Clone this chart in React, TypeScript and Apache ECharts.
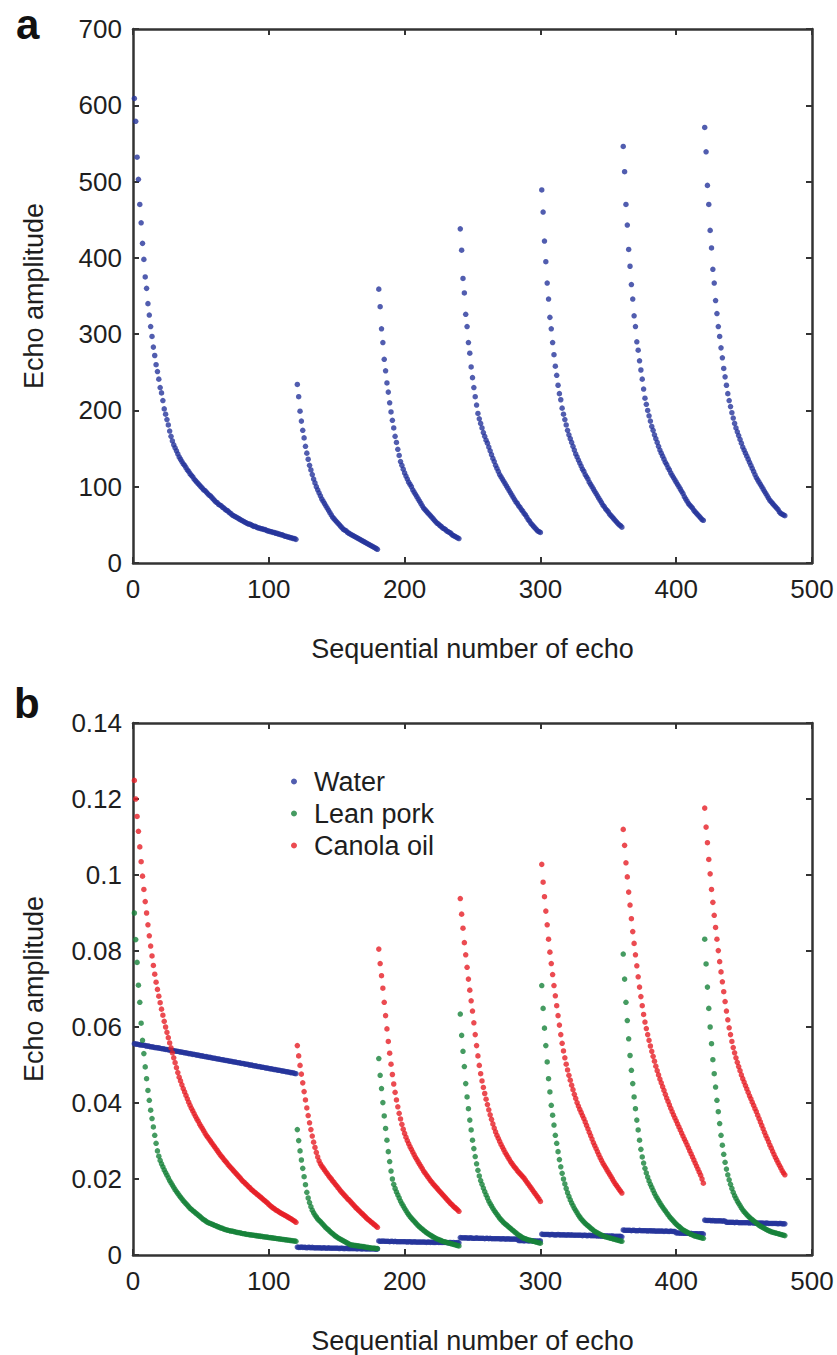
import React, { useEffect, useRef } from "react";
import * as echarts from "echarts";

// Echo index at which each acquisition segment starts (120 echoes, then 6 x 60)
const SEGMENT_STARTS = [1, 121, 181, 241, 301, 361, 421];
const X_MIN = 0;
const X_MAX = 500;
const X_STEP = 100;
const Y_A_MAX = 700;
const Y_A_STEP = 100;
const Y_B_MAX = 0.14;
const Y_B_STEP = 0.02;
const LEGEND_NAMES = ["Water", "Lean pork", "Canola oil"];
const X_TITLE = "Sequential number of echo";
const Y_TITLE = "Echo amplitude";

// Panel a: echo amplitude, per segment
const echoA = [
  [
    609, 579, 532, 503, 470, 446, 419, 398, 375, 360,
    340, 325, 310, 297, 283, 272, 260, 251, 241, 230,
    223, 213, 202, 195, 188, 181, 173, 166, 160, 155,
    151, 147, 143, 139, 136, 133, 130, 128, 125, 122,
    120, 117, 115, 113, 110, 108, 106, 104, 102, 100,
    98, 96, 95, 93, 91, 89, 88, 86, 84, 82,
    80, 79, 77, 76, 75, 73, 72, 70, 69, 68,
    66, 65, 63, 62, 61, 60, 59, 58, 57, 56,
    55, 54, 53, 52, 51, 51, 50, 49, 48, 48,
    47, 46, 46, 45, 45, 44, 44, 43, 42, 42,
    41, 41, 40, 40, 39, 39, 38, 38, 37, 37,
    36, 35, 35, 34, 34, 33, 33, 32, 32, 31,
  ],
  [
    234, 218, 199, 186, 174, 164, 153, 144, 136, 128,
    122, 116, 110, 105, 100, 96, 92, 88, 84, 81,
    78, 75, 72, 69, 66, 63, 60, 58, 56, 54,
    52, 50, 48, 46, 44, 43, 42, 40, 39, 38,
    37, 36, 35, 34, 33, 32, 31, 30, 29, 28,
    27, 26, 25, 24, 23, 22, 21, 20, 19, 18,
  ],
  [
    359, 336, 307, 289, 267, 252, 236, 224, 210, 198,
    187, 177, 166, 158, 149, 141, 133, 128, 123, 118,
    114, 110, 106, 103, 100, 96, 93, 90, 87, 84,
    81, 78, 75, 72, 70, 68, 66, 64, 62, 60,
    58, 56, 54, 52, 51, 49, 48, 46, 45, 44,
    42, 41, 40, 39, 37, 36, 35, 34, 33, 32,
  ],
  [
    438, 410, 373, 354, 326, 310, 289, 275, 257, 243,
    230, 218, 207, 196, 189, 183, 177, 171, 166, 161,
    157, 152, 147, 142, 137, 133, 128, 124, 120, 116,
    113, 110, 107, 104, 101, 98, 95, 92, 89, 86,
    83, 80, 78, 75, 73, 70, 68, 65, 63, 60,
    57, 55, 52, 50, 48, 46, 44, 42, 41, 40,
  ],
  [
    489, 460, 422, 395, 367, 346, 322, 307, 289, 273,
    258, 246, 233, 222, 214, 203, 195, 188, 181, 174,
    168, 163, 158, 153, 148, 143, 139, 135, 131, 127,
    123, 120, 116, 113, 110, 106, 103, 100, 97, 94,
    91, 88, 85, 82, 79, 76, 74, 71, 69, 67,
    64, 62, 60, 58, 56, 54, 52, 50, 49, 47,
  ],
  [
    546, 513, 470, 443, 411, 389, 365, 346, 324, 310,
    290, 279, 265, 253, 241, 228, 216, 208, 200, 193,
    186, 179, 174, 168, 163, 158, 153, 148, 144, 140,
    136, 132, 129, 125, 122, 118, 115, 112, 109, 106,
    103, 100, 97, 94, 91, 87, 84, 81, 78, 76,
    74, 72, 69, 67, 65, 63, 61, 59, 57, 56,
  ],
  [
    571, 539, 495, 470, 436, 413, 385, 367, 344, 327,
    310, 297, 282, 269, 255, 244, 233, 222, 213, 205,
    197, 190, 183, 177, 172, 167, 162, 157, 152, 148,
    144, 140, 136, 132, 128, 124, 120, 116, 112, 109,
    106, 103, 100, 97, 94, 91, 88, 85, 82, 80,
    78, 76, 74, 72, 70, 67, 65, 64, 63, 62,
  ],
];

// Panel b: Water
const waterB = [
  [
    0.0556, 0.0555, 0.0555, 0.0554, 0.0553, 0.0553, 0.0552, 0.0552, 0.0551, 0.0550,
    0.0550, 0.0549, 0.0548, 0.0548, 0.0547, 0.0546, 0.0546, 0.0545, 0.0545, 0.0544,
    0.0543, 0.0543, 0.0542, 0.0541, 0.0541, 0.0540, 0.0539, 0.0539, 0.0538, 0.0538,
    0.0537, 0.0536, 0.0536, 0.0535, 0.0534, 0.0534, 0.0533, 0.0532, 0.0532, 0.0531,
    0.0530, 0.0530, 0.0529, 0.0528, 0.0528, 0.0527, 0.0526, 0.0526, 0.0525, 0.0524,
    0.0524, 0.0523, 0.0522, 0.0522, 0.0521, 0.0520, 0.0520, 0.0519, 0.0518, 0.0518,
    0.0517, 0.0516, 0.0516, 0.0515, 0.0514, 0.0514, 0.0513, 0.0512, 0.0512, 0.0511,
    0.0510, 0.0510, 0.0509, 0.0508, 0.0508, 0.0507, 0.0506, 0.0506, 0.0505, 0.0504,
    0.0504, 0.0503, 0.0502, 0.0502, 0.0501, 0.0500, 0.0500, 0.0499, 0.0498, 0.0498,
    0.0497, 0.0496, 0.0496, 0.0495, 0.0494, 0.0494, 0.0493, 0.0492, 0.0492, 0.0491,
    0.0490, 0.0490, 0.0489, 0.0488, 0.0488, 0.0487, 0.0486, 0.0486, 0.0485, 0.0484,
    0.0484, 0.0483, 0.0482, 0.0482, 0.0481, 0.0480, 0.0480, 0.0479, 0.0478, 0.0477,
  ],
  [
    0.0021, 0.0020, 0.0020, 0.0021, 0.0020, 0.0020, 0.0020, 0.0019, 0.0020, 0.0020,
    0.0019, 0.0020, 0.0019, 0.0019, 0.0019, 0.0019, 0.0019, 0.0019, 0.0018, 0.0019,
    0.0019, 0.0018, 0.0018, 0.0019, 0.0018, 0.0018, 0.0018, 0.0018, 0.0018, 0.0018,
    0.0018, 0.0017, 0.0018, 0.0018, 0.0017, 0.0017, 0.0018, 0.0017, 0.0017, 0.0017,
    0.0017, 0.0017, 0.0017, 0.0017, 0.0016, 0.0017, 0.0017, 0.0016, 0.0016, 0.0017,
    0.0016, 0.0016, 0.0016, 0.0016, 0.0016, 0.0016, 0.0016, 0.0016, 0.0015, 0.0016,
  ],
  [
    0.0037, 0.0036, 0.0036, 0.0037, 0.0036, 0.0036, 0.0036, 0.0036, 0.0035, 0.0036,
    0.0036, 0.0035, 0.0036, 0.0035, 0.0035, 0.0035, 0.0035, 0.0035, 0.0035, 0.0035,
    0.0035, 0.0034, 0.0035, 0.0035, 0.0034, 0.0034, 0.0035, 0.0034, 0.0034, 0.0034,
    0.0034, 0.0034, 0.0034, 0.0034, 0.0034, 0.0033, 0.0034, 0.0034, 0.0033, 0.0034,
    0.0033, 0.0033, 0.0033, 0.0034, 0.0033, 0.0033, 0.0033, 0.0033, 0.0033, 0.0033,
    0.0033, 0.0032, 0.0033, 0.0033, 0.0032, 0.0033, 0.0032, 0.0032, 0.0033, 0.0032,
  ],
  [
    0.0046, 0.0045, 0.0045, 0.0045, 0.0045, 0.0045, 0.0044, 0.0045, 0.0045, 0.0044,
    0.0044, 0.0044, 0.0045, 0.0044, 0.0044, 0.0044, 0.0044, 0.0044, 0.0043, 0.0044,
    0.0044, 0.0043, 0.0044, 0.0043, 0.0043, 0.0043, 0.0043, 0.0043, 0.0043, 0.0043,
    0.0042, 0.0043, 0.0043, 0.0042, 0.0042, 0.0043, 0.0042, 0.0042, 0.0042, 0.0042,
    0.0042, 0.0042, 0.0041, 0.0038, 0.0038, 0.0038, 0.0038, 0.0037, 0.0038, 0.0038,
    0.0037, 0.0037, 0.0038, 0.0037, 0.0037, 0.0037, 0.0037, 0.0036, 0.0037, 0.0037,
  ],
  [
    0.0055, 0.0054, 0.0054, 0.0054, 0.0054, 0.0054, 0.0053, 0.0054, 0.0054, 0.0053,
    0.0053, 0.0053, 0.0054, 0.0053, 0.0053, 0.0053, 0.0053, 0.0053, 0.0052, 0.0053,
    0.0053, 0.0052, 0.0053, 0.0052, 0.0052, 0.0052, 0.0052, 0.0052, 0.0052, 0.0052,
    0.0051, 0.0052, 0.0052, 0.0051, 0.0051, 0.0052, 0.0051, 0.0051, 0.0051, 0.0051,
    0.0051, 0.0050, 0.0051, 0.0050, 0.0050, 0.0050, 0.0050, 0.0050, 0.0050, 0.0050,
    0.0049, 0.0050, 0.0050, 0.0049, 0.0049, 0.0049, 0.0049, 0.0049, 0.0049, 0.0048,
  ],
  [
    0.0066, 0.0065, 0.0065, 0.0065, 0.0065, 0.0065, 0.0064, 0.0065, 0.0065, 0.0064,
    0.0064, 0.0064, 0.0065, 0.0064, 0.0064, 0.0064, 0.0064, 0.0064, 0.0063, 0.0064,
    0.0064, 0.0063, 0.0064, 0.0063, 0.0063, 0.0063, 0.0063, 0.0063, 0.0063, 0.0063,
    0.0062, 0.0063, 0.0063, 0.0062, 0.0062, 0.0063, 0.0062, 0.0062, 0.0062, 0.0058,
    0.0058, 0.0058, 0.0057, 0.0058, 0.0057, 0.0057, 0.0057, 0.0057, 0.0057, 0.0056,
    0.0057, 0.0056, 0.0056, 0.0056, 0.0056, 0.0056, 0.0055, 0.0056, 0.0056, 0.0055,
  ],
  [
    0.0092, 0.0091, 0.0091, 0.0091, 0.0091, 0.0090, 0.0091, 0.0090, 0.0090, 0.0090,
    0.0090, 0.0090, 0.0090, 0.0089, 0.0090, 0.0089, 0.0086, 0.0086, 0.0086, 0.0086,
    0.0086, 0.0086, 0.0085, 0.0086, 0.0086, 0.0085, 0.0085, 0.0085, 0.0085, 0.0085,
    0.0085, 0.0085, 0.0085, 0.0084, 0.0085, 0.0085, 0.0084, 0.0084, 0.0084, 0.0084,
    0.0084, 0.0084, 0.0084, 0.0084, 0.0083, 0.0084, 0.0084, 0.0083, 0.0083, 0.0083,
    0.0083, 0.0083, 0.0083, 0.0083, 0.0082, 0.0083, 0.0083, 0.0082, 0.0082, 0.0082,
  ],
];

// Panel b: Lean pork
const porkB = [
  [
    0.0900, 0.0830, 0.0770, 0.0710, 0.0665, 0.0610, 0.0565, 0.0530, 0.0495, 0.0464,
    0.0433, 0.0407, 0.0381, 0.0359, 0.0337, 0.0315, 0.0294, 0.0274, 0.0260, 0.0249,
    0.0240, 0.0232, 0.0224, 0.0217, 0.0210, 0.0203, 0.0196, 0.0190, 0.0184, 0.0178,
    0.0172, 0.0167, 0.0162, 0.0157, 0.0152, 0.0148, 0.0143, 0.0139, 0.0135, 0.0131,
    0.0127, 0.0123, 0.0120, 0.0117, 0.0114, 0.0111, 0.0108, 0.0105, 0.0102, 0.0099,
    0.0096, 0.0093, 0.0091, 0.0088, 0.0086, 0.0084, 0.0083, 0.0081, 0.0080, 0.0078,
    0.0077, 0.0075, 0.0074, 0.0072, 0.0071, 0.0070, 0.0068, 0.0067, 0.0066, 0.0065,
    0.0064, 0.0063, 0.0063, 0.0062, 0.0061, 0.0060, 0.0059, 0.0059, 0.0058, 0.0057,
    0.0056, 0.0056, 0.0055, 0.0054, 0.0054, 0.0053, 0.0053, 0.0052, 0.0052, 0.0051,
    0.0051, 0.0050, 0.0050, 0.0049, 0.0049, 0.0048, 0.0048, 0.0047, 0.0047, 0.0046,
    0.0046, 0.0045, 0.0045, 0.0044, 0.0044, 0.0043, 0.0043, 0.0042, 0.0042, 0.0041,
    0.0041, 0.0040, 0.0040, 0.0039, 0.0039, 0.0038, 0.0038, 0.0037, 0.0037, 0.0036,
  ],
  [
    0.0330, 0.0301, 0.0274, 0.0250, 0.0228, 0.0206, 0.0185, 0.0165, 0.0150, 0.0138,
    0.0127, 0.0118, 0.0111, 0.0105, 0.0100, 0.0095, 0.0091, 0.0088, 0.0084, 0.0080,
    0.0076, 0.0072, 0.0069, 0.0066, 0.0062, 0.0059, 0.0056, 0.0053, 0.0050, 0.0048,
    0.0045, 0.0043, 0.0041, 0.0039, 0.0037, 0.0035, 0.0033, 0.0031, 0.0029, 0.0027,
    0.0026, 0.0026, 0.0025, 0.0025, 0.0024, 0.0024, 0.0023, 0.0023, 0.0022, 0.0022,
    0.0021, 0.0020, 0.0020, 0.0019, 0.0019, 0.0018, 0.0018, 0.0018, 0.0017, 0.0017,
  ],
  [
    0.0517, 0.0473, 0.0438, 0.0401, 0.0366, 0.0333, 0.0302, 0.0272, 0.0246, 0.0221,
    0.0200, 0.0186, 0.0175, 0.0166, 0.0158, 0.0150, 0.0142, 0.0135, 0.0129, 0.0123,
    0.0117, 0.0111, 0.0106, 0.0101, 0.0097, 0.0093, 0.0089, 0.0085, 0.0081, 0.0077,
    0.0074, 0.0071, 0.0068, 0.0065, 0.0062, 0.0059, 0.0057, 0.0054, 0.0052, 0.0050,
    0.0048, 0.0046, 0.0044, 0.0042, 0.0041, 0.0039, 0.0038, 0.0036, 0.0035, 0.0034,
    0.0033, 0.0032, 0.0031, 0.0030, 0.0029, 0.0028, 0.0027, 0.0026, 0.0025, 0.0024,
  ],
  [
    0.0634, 0.0578, 0.0536, 0.0496, 0.0451, 0.0416, 0.0385, 0.0355, 0.0329, 0.0302,
    0.0280, 0.0259, 0.0240, 0.0223, 0.0208, 0.0196, 0.0186, 0.0176, 0.0167, 0.0158,
    0.0150, 0.0142, 0.0135, 0.0129, 0.0123, 0.0117, 0.0112, 0.0107, 0.0102, 0.0097,
    0.0093, 0.0089, 0.0085, 0.0082, 0.0079, 0.0076, 0.0073, 0.0070, 0.0067, 0.0064,
    0.0061, 0.0058, 0.0055, 0.0052, 0.0050, 0.0048, 0.0045, 0.0044, 0.0043, 0.0041,
    0.0040, 0.0039, 0.0038, 0.0037, 0.0036, 0.0035, 0.0034, 0.0033, 0.0032, 0.0031,
  ],
  [
    0.0709, 0.0649, 0.0597, 0.0551, 0.0508, 0.0464, 0.0429, 0.0394, 0.0368, 0.0342,
    0.0315, 0.0294, 0.0272, 0.0251, 0.0232, 0.0215, 0.0200, 0.0187, 0.0175, 0.0164,
    0.0154, 0.0145, 0.0137, 0.0130, 0.0123, 0.0117, 0.0111, 0.0105, 0.0100, 0.0095,
    0.0091, 0.0087, 0.0083, 0.0080, 0.0077, 0.0074, 0.0071, 0.0068, 0.0065, 0.0062,
    0.0060, 0.0058, 0.0056, 0.0054, 0.0052, 0.0051, 0.0049, 0.0048, 0.0047, 0.0046,
    0.0045, 0.0044, 0.0043, 0.0042, 0.0041, 0.0040, 0.0039, 0.0038, 0.0037, 0.0036,
  ],
  [
    0.0792, 0.0726, 0.0665, 0.0617, 0.0569, 0.0525, 0.0486, 0.0451, 0.0416, 0.0385,
    0.0355, 0.0329, 0.0302, 0.0278, 0.0258, 0.0242, 0.0228, 0.0216, 0.0205, 0.0195,
    0.0186, 0.0178, 0.0170, 0.0162, 0.0155, 0.0149, 0.0143, 0.0137, 0.0131, 0.0126,
    0.0121, 0.0116, 0.0111, 0.0106, 0.0101, 0.0097, 0.0093, 0.0089, 0.0085, 0.0081,
    0.0078, 0.0075, 0.0072, 0.0069, 0.0066, 0.0064, 0.0062, 0.0060, 0.0058, 0.0056,
    0.0054, 0.0053, 0.0051, 0.0050, 0.0049, 0.0048, 0.0047, 0.0046, 0.0045, 0.0044,
  ],
  [
    0.0831, 0.0766, 0.0705, 0.0649, 0.0600, 0.0556, 0.0514, 0.0477, 0.0442, 0.0407,
    0.0377, 0.0346, 0.0315, 0.0289, 0.0265, 0.0244, 0.0226, 0.0211, 0.0198, 0.0186,
    0.0175, 0.0165, 0.0156, 0.0149, 0.0142, 0.0136, 0.0130, 0.0124, 0.0119, 0.0114,
    0.0110, 0.0106, 0.0102, 0.0099, 0.0096, 0.0093, 0.0090, 0.0087, 0.0084, 0.0081,
    0.0078, 0.0076, 0.0074, 0.0072, 0.0070, 0.0068, 0.0066, 0.0064, 0.0063, 0.0061,
    0.0060, 0.0059, 0.0058, 0.0057, 0.0056, 0.0055, 0.0054, 0.0053, 0.0052, 0.0051,
  ],
];

// Panel b: Canola oil
const canolaB = [
  [
    0.1249, 0.1200, 0.1154, 0.1115, 0.1074, 0.1035, 0.0997, 0.0962, 0.0930, 0.0900,
    0.0869, 0.0840, 0.0813, 0.0787, 0.0762, 0.0739, 0.0718, 0.0699, 0.0681, 0.0664,
    0.0647, 0.0631, 0.0615, 0.0600, 0.0586, 0.0572, 0.0558, 0.0545, 0.0532, 0.0519,
    0.0506, 0.0493, 0.0480, 0.0468, 0.0458, 0.0448, 0.0438, 0.0429, 0.0420, 0.0411,
    0.0402, 0.0394, 0.0386, 0.0379, 0.0372, 0.0365, 0.0358, 0.0352, 0.0345, 0.0339,
    0.0333, 0.0327, 0.0321, 0.0315, 0.0310, 0.0305, 0.0300, 0.0295, 0.0290, 0.0285,
    0.0280, 0.0275, 0.0270, 0.0265, 0.0260, 0.0256, 0.0251, 0.0247, 0.0243, 0.0238,
    0.0234, 0.0230, 0.0226, 0.0222, 0.0218, 0.0214, 0.0210, 0.0206, 0.0202, 0.0198,
    0.0194, 0.0191, 0.0187, 0.0184, 0.0180, 0.0177, 0.0173, 0.0170, 0.0167, 0.0164,
    0.0161, 0.0158, 0.0155, 0.0152, 0.0149, 0.0146, 0.0143, 0.0140, 0.0137, 0.0133,
    0.0130, 0.0127, 0.0124, 0.0122, 0.0119, 0.0117, 0.0115, 0.0112, 0.0110, 0.0108,
    0.0106, 0.0104, 0.0102, 0.0100, 0.0098, 0.0096, 0.0094, 0.0091, 0.0089, 0.0086,
  ],
  [
    0.0551, 0.0524, 0.0499, 0.0476, 0.0453, 0.0430, 0.0408, 0.0387, 0.0367, 0.0348,
    0.0330, 0.0313, 0.0297, 0.0283, 0.0270, 0.0258, 0.0248, 0.0240, 0.0234, 0.0229,
    0.0224, 0.0219, 0.0214, 0.0209, 0.0204, 0.0200, 0.0195, 0.0191, 0.0186, 0.0182,
    0.0177, 0.0173, 0.0168, 0.0164, 0.0160, 0.0156, 0.0152, 0.0148, 0.0145, 0.0141,
    0.0137, 0.0133, 0.0129, 0.0125, 0.0122, 0.0118, 0.0115, 0.0111, 0.0108, 0.0104,
    0.0101, 0.0097, 0.0094, 0.0091, 0.0088, 0.0085, 0.0082, 0.0079, 0.0076, 0.0073,
  ],
  [
    0.0805, 0.0767, 0.0735, 0.0702, 0.0665, 0.0630, 0.0595, 0.0562, 0.0531, 0.0502,
    0.0475, 0.0450, 0.0428, 0.0408, 0.0390, 0.0373, 0.0358, 0.0344, 0.0331, 0.0320,
    0.0310, 0.0301, 0.0293, 0.0285, 0.0278, 0.0271, 0.0264, 0.0257, 0.0251, 0.0245,
    0.0239, 0.0233, 0.0227, 0.0221, 0.0216, 0.0211, 0.0206, 0.0201, 0.0196, 0.0192,
    0.0187, 0.0183, 0.0179, 0.0175, 0.0171, 0.0167, 0.0163, 0.0159, 0.0155, 0.0151,
    0.0147, 0.0143, 0.0139, 0.0135, 0.0132, 0.0128, 0.0125, 0.0122, 0.0119, 0.0115,
  ],
  [
    0.0938, 0.0897, 0.0860, 0.0822, 0.0790, 0.0757, 0.0726, 0.0697, 0.0669, 0.0642,
    0.0611, 0.0580, 0.0551, 0.0524, 0.0499, 0.0477, 0.0458, 0.0441, 0.0425, 0.0410,
    0.0396, 0.0382, 0.0369, 0.0357, 0.0345, 0.0334, 0.0324, 0.0315, 0.0307, 0.0299,
    0.0291, 0.0284, 0.0277, 0.0270, 0.0264, 0.0258, 0.0252, 0.0246, 0.0241, 0.0236,
    0.0231, 0.0227, 0.0222, 0.0218, 0.0214, 0.0210, 0.0206, 0.0202, 0.0197, 0.0192,
    0.0187, 0.0182, 0.0177, 0.0172, 0.0167, 0.0162, 0.0157, 0.0152, 0.0147, 0.0141,
  ],
  [
    0.1028, 0.0981, 0.0943, 0.0905, 0.0869, 0.0831, 0.0797, 0.0767, 0.0738, 0.0709,
    0.0682, 0.0656, 0.0630, 0.0605, 0.0580, 0.0557, 0.0537, 0.0519, 0.0502, 0.0487,
    0.0473, 0.0460, 0.0447, 0.0435, 0.0423, 0.0412, 0.0401, 0.0392, 0.0383, 0.0375,
    0.0367, 0.0359, 0.0350, 0.0341, 0.0332, 0.0323, 0.0314, 0.0305, 0.0296, 0.0288,
    0.0280, 0.0272, 0.0264, 0.0256, 0.0249, 0.0242, 0.0236, 0.0230, 0.0224, 0.0218,
    0.0212, 0.0206, 0.0200, 0.0194, 0.0188, 0.0183, 0.0178, 0.0173, 0.0168, 0.0163,
  ],
  [
    0.1120, 0.1078, 0.1032, 0.0995, 0.0955, 0.0921, 0.0885, 0.0851, 0.0820, 0.0790,
    0.0761, 0.0732, 0.0705, 0.0680, 0.0656, 0.0633, 0.0613, 0.0596, 0.0580, 0.0565,
    0.0550, 0.0536, 0.0523, 0.0510, 0.0497, 0.0485, 0.0474, 0.0463, 0.0453, 0.0443,
    0.0433, 0.0423, 0.0413, 0.0404, 0.0395, 0.0386, 0.0377, 0.0369, 0.0361, 0.0353,
    0.0345, 0.0337, 0.0329, 0.0321, 0.0313, 0.0305, 0.0298, 0.0290, 0.0282, 0.0274,
    0.0266, 0.0258, 0.0250, 0.0242, 0.0234, 0.0226, 0.0218, 0.0210, 0.0200, 0.0189,
  ],
  [
    0.1176, 0.1126, 0.1085, 0.1041, 0.1003, 0.0962, 0.0928, 0.0894, 0.0862, 0.0831,
    0.0801, 0.0772, 0.0745, 0.0719, 0.0693, 0.0667, 0.0642, 0.0619, 0.0598, 0.0580,
    0.0562, 0.0546, 0.0532, 0.0519, 0.0507, 0.0496, 0.0485, 0.0474, 0.0464, 0.0455,
    0.0446, 0.0437, 0.0428, 0.0419, 0.0411, 0.0402, 0.0394, 0.0385, 0.0377, 0.0368,
    0.0359, 0.0350, 0.0341, 0.0332, 0.0323, 0.0314, 0.0306, 0.0298, 0.0289, 0.0281,
    0.0273, 0.0265, 0.0257, 0.0250, 0.0243, 0.0236, 0.0229, 0.0222, 0.0216, 0.0211,
  ],
];

function toPoints(segments: number[][]): number[][] {
  const pts: number[][] = [];
  segments.forEach((seg, i) => {
    seg.forEach((v, k) => pts.push([SEGMENT_STARTS[i] + k, v]));
  });
  return pts;
}

const FONT = "'Liberation Sans', Arial, Helvetica, sans-serif";
const AXIS_COLOR = "#333333";
const TEXT_COLOR = "#1e1e1e";
const BLUE = "#25359b";
const GREEN = "#16823a";
const RED = "#e61e26";
const TICK_FONT = 26;
const NAME_FONT = 27;

function xAxes(gridIndex: number) {
  const base = {
    type: "value",
    gridIndex,
    min: X_MIN,
    max: X_MAX,
    interval: X_STEP,
    axisLine: { show: true, onZero: false, lineStyle: { color: AXIS_COLOR, width: 2.5 } },
    axisTick: { show: true, inside: true, length: 6, lineStyle: { color: AXIS_COLOR, width: 2 } },
    splitLine: { show: false },
  };
  return [
    {
      ...base,
      position: "bottom",
      name: X_TITLE,
      nameLocation: "middle",
      nameGap: 72,
      nameTextStyle: { fontSize: NAME_FONT, color: TEXT_COLOR, fontFamily: FONT },
      axisLabel: { fontSize: TICK_FONT, color: TEXT_COLOR, fontFamily: FONT, margin: 13 },
    },
    { ...base, position: "top", axisLabel: { show: false } },
  ];
}

function yAxes(gridIndex: number, max: number, step: number) {
  const base = {
    type: "value",
    gridIndex,
    min: 0,
    max,
    interval: step,
    axisLine: { show: true, onZero: false, lineStyle: { color: AXIS_COLOR, width: 2.5 } },
    axisTick: { show: true, inside: true, length: 6, lineStyle: { color: AXIS_COLOR, width: 2 } },
    splitLine: { show: false },
  };
  return [
    {
      ...base,
      position: "left",
      name: Y_TITLE,
      nameLocation: "middle",
      nameGap: 86,
      nameTextStyle: { fontSize: NAME_FONT, color: TEXT_COLOR, fontFamily: FONT },
      axisLabel: { fontSize: TICK_FONT, color: TEXT_COLOR, fontFamily: FONT, margin: 11 },
    },
    { ...base, position: "right", axisLabel: { show: false } },
  ];
}

function scatter(name: string, data: number[][], color: string, axisIndex: number) {
  return {
    type: "scatter",
    name,
    data,
    xAxisIndex: axisIndex,
    yAxisIndex: axisIndex,
    symbol: "circle",
    symbolSize: 5.5,
    itemStyle: { color },
    emphasis: { disabled: true },
  };
}

export default function App() {
  const ref = useRef<HTMLDivElement>(null);

  useEffect(() => {
    document.body.style.margin = "0";
    if (!ref.current) return;
    const chart = echarts.init(ref.current, undefined, { renderer: "svg" });
    chart.setOption({
      animation: false,
      backgroundColor: "#ffffff",
      textStyle: { fontFamily: FONT },
      grid: [
        { left: 133, top: 29, width: 679, height: 534 },
        { left: 133, top: 723, width: 679, height: 534 },
      ],
      xAxis: [...xAxes(0), ...xAxes(1)],
      yAxis: [...yAxes(0, Y_A_MAX, Y_A_STEP), ...yAxes(1, Y_B_MAX, Y_B_STEP)],
      legend: {
        data: LEGEND_NAMES,
        orient: "vertical",
        left: 286,
        top: 763,
        itemWidth: 30,
        itemHeight: 6,
        itemGap: 5,
        icon: "circle",
        selectedMode: false,
        textStyle: { fontSize: NAME_FONT, color: TEXT_COLOR, fontFamily: FONT },
      },
      graphic: [
        {
          type: "text",
          left: 16,
          top: 3,
          style: { text: "a", font: `bold 42px ${FONT}`, fill: "#111" },
        },
        {
          type: "text",
          left: 14,
          top: 682,
          style: { text: "b", font: `bold 42px ${FONT}`, fill: "#111" },
        },
      ],
      series: [
        scatter("Echo amplitude", toPoints(echoA), BLUE, 0),
        scatter(LEGEND_NAMES[0], toPoints(waterB), BLUE, 2),
        scatter(LEGEND_NAMES[1], toPoints(porkB), GREEN, 2),
        scatter(LEGEND_NAMES[2], toPoints(canolaB), RED, 2),
      ],
    });
    return () => chart.dispose();
  }, []);

  return (
    <div
      ref={ref}
      style={{ position: "absolute", left: 0, top: 0, width: 837, height: 1355, background: "#fff" }}
    />
  );
}
